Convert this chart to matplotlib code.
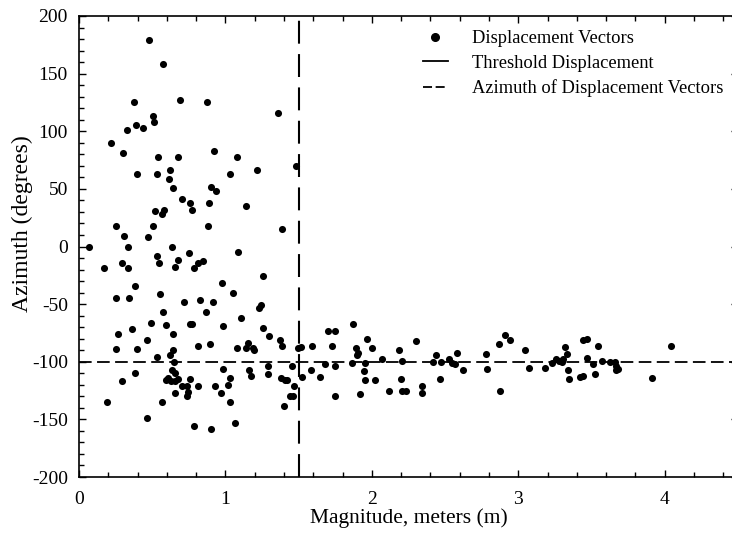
import matplotlib
matplotlib.use("Agg")
import matplotlib.pyplot as plt
from matplotlib.lines import Line2D
from matplotlib.ticker import MultipleLocator

# displacement vectors: magnitude (m), azimuth (deg)
magnitude = [
    0.48, 0.573, 0.373, 0.689, 0.874, 0.507, 0.514, 0.325, 0.389, 0.439,
    0.216, 0.30, 0.541, 0.676, 0.922, 1.081, 0.398, 0.535, 0.621, 0.617,
    1.031, 1.213, 0.899, 0.933, 0.639, 0.705, 0.758, 0.771, 0.885, 1.14,
    0.519, 0.58, 0.567, 0.255, 0.503, 0.878, 0.309, 0.471, 0.07, 0.334,
    0.637, 0.753, 1.088, 0.535, 0.676, 0.844, 0.81, 0.294, 0.548, 0.168,
    0.337, 0.655, 0.783, 0.385, 0.974, 0.253, 0.339, 0.553, 1.054, 0.715,
    0.828, 0.915, 1.232, 1.24, 0.576, 0.865, 1.103, 0.489, 0.592, 0.758,
    0.773, 0.981, 0.266, 0.364, 0.639, 0.466, 0.81, 0.896, 1.076, 1.155,
    1.19, 1.14, 1.197, 0.253, 0.398, 0.639, 0.535, 0.621, 0.648, 0.985,
    1.031, 1.163, 1.172, 0.385, 0.297, 0.632, 0.655, 0.594, 0.61, 0.628,
    0.655, 0.678, 0.705, 0.735, 0.758, 0.81, 0.742, 0.735, 0.928, 1.015,
    0.969, 1.031, 0.655, 0.564, 0.193, 0.466, 0.783, 0.903, 1.065,
    1.36, 1.481, 1.388, 1.258, 1.254, 1.3, 1.372, 1.388, 1.493, 1.513,
    1.593, 1.702, 1.747, 1.729, 1.868, 1.891, 1.907, 1.9, 1.964, 1.998,
    1.952, 1.948, 1.952, 2.02, 1.918, 1.866, 2.07, 2.114, 2.184, 2.207,
    2.198, 2.203, 2.23, 2.298, 2.341, 2.341, 2.435, 2.419, 2.475, 2.468,
    2.528, 1.29, 1.29, 1.379, 1.406, 1.422, 1.452, 1.47, 1.44, 1.463,
    1.401, 1.52, 1.584, 1.645, 1.679, 1.747, 1.747,
    2.566, 2.544, 2.578, 2.623, 2.778, 2.783, 2.874, 2.869, 2.912, 2.942,
    3.047, 3.072, 3.183, 3.229, 3.256, 3.279, 3.295, 3.306, 3.317, 3.333,
    3.342, 3.347, 3.443, 3.47, 3.545, 3.47, 3.511, 3.42, 3.443, 3.525,
    3.568, 3.625, 3.659, 3.67, 3.681, 3.67, 3.915, 4.045,
]
azimuth = [
    179, 158, 125, 127, 125, 113, 108, 101, 105, 103,
    90, 81, 78, 78, 83, 78, 63, 63, 66, 59,
    63, 66, 52, 48, 51, 41, 38, 32, 38, 35,
    31, 32, 28, 18, 18, 18, 9, 8, 0, 0,
    0, -6, -5, -8, -12, -13, -14, -14, -14, -19,
    -19, -18, -19, -34, -32, -45, -45, -41, -40, -48,
    -46, -48, -53, -51, -57, -57, -62, -66, -68, -67,
    -67, -69, -76, -72, -76, -81, -86, -85, -88, -84,
    -88, -88, -90, -89, -89, -90, -96, -94, -100, -106,
    -114, -107, -112, -110, -117, -107, -110, -116, -114, -117,
    -117, -115, -121, -121, -115, -121, -126, -130, -121, -120,
    -127, -135, -127, -135, -135, -149, -156, -158, -153,
    116, 70, 15, -26, -71, -78, -81, -86, -88, -87,
    -86, -73, -73, -86, -67, -88, -92, -94, -80, -88,
    -101, -108, -116, -116, -128, -101, -98, -125, -90, -99,
    -115, -125, -125, -82, -121, -127, -94, -100, -100, -115,
    -98, -104, -111, -114, -116, -116, -104, -121, -130, -130,
    -138, -113, -107, -113, -102, -104, -130,
    -102, -101, -92, -107, -93, -106, -125, -85, -77, -81,
    -90, -105, -105, -101, -98, -99, -100, -98, -87, -93,
    -107, -115, -81, -80, -86, -97, -102, -113, -112, -111,
    -99, -100, -100, -104, -106, -107, -114, -86,
]

threshold = 1.5
mean_azimuth = -100

plt.rcParams["font.family"] = ["Liberation Serif", "DejaVu Serif"]
plt.rcParams["axes.unicode_minus"] = False

fig = plt.figure(figsize=(7.32, 5.37), dpi=100)
ax = fig.add_axes([79 / 732, 60 / 537, 659 / 732, 461 / 537])

ax.scatter(magnitude, azimuth, s=26, color="black", zorder=3, linewidths=0)
ax.axvline(threshold, color="black", lw=1.5, dashes=(11, 5), zorder=2)
ax.axhline(mean_azimuth, color="black", lw=1.3, dashes=(7, 3), zorder=2)

ax.set_xlim(0, 4.5)
ax.set_ylim(-200, 200)
ax.xaxis.set_major_locator(MultipleLocator(1))
ax.xaxis.set_minor_locator(MultipleLocator(0.2))
ax.yaxis.set_major_locator(MultipleLocator(50))
ax.yaxis.set_minor_locator(MultipleLocator(10))
ax.tick_params(which="both", direction="in", top=True, right=True,
               labelsize=14, width=1, color="black")
ax.tick_params(which="major", length=5)
ax.tick_params(which="minor", length=3.3)
ax.tick_params(axis="x", pad=10)
ax.tick_params(axis="y", pad=8)
for s in ax.spines.values():
    s.set_linewidth(1.2)

ax.set_xlabel("Magnitude, meters (m)", fontsize=15.5, labelpad=0)
ax.set_ylabel("Azimuth (degrees)", fontsize=17)
ax.yaxis.set_label_coords(-0.070, 0.549)

handles = [
    Line2D([], [], ls="none", marker="o", ms=5.5, color="black"),
    Line2D([], [], color="black", lw=1.3),
    Line2D([], [], color="black", lw=1.3, dashes=(5, 2)),
]
labels = ["Displacement Vectors", "Threshold Displacement",
          "Azimuth of Displacement Vectors"]
fig.legend(handles, labels, loc="upper left",
           bbox_to_anchor=(423 / 732, 1 - 30 / 537), frameon=False,
           fontsize=13.3, handlelength=1.35, handletextpad=1.3,
           labelspacing=0.41, borderpad=0, borderaxespad=0)

fig.savefig("out.png", dpi=100)
